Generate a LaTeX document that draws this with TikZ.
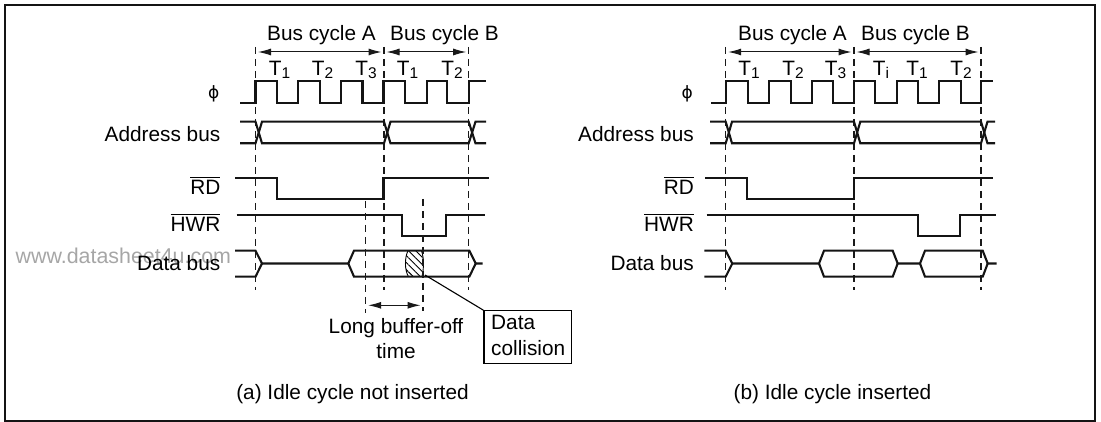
\documentclass[tikz,border=0pt]{standalone}
\usepackage{fontspec}
\setmainfont{Liberation Sans}
\newfontfamily\phifont{DejaVu Sans}
\usetikzlibrary{arrows.meta,patterns.meta}
\newcommand{\tstate}[2]{#1\raisebox{-3pt}{\fontsize{15.5}{16}\selectfont #2}}
\newcommand{\barsig}[1]{$\overline{\mbox{\rule{0pt}{16pt}#1}}$}

\begin{document}
\begin{tikzpicture}[
  x=1pt,y=-1pt,
  font=\fontsize{20.8}{24}\selectfont,
  sig/.style={draw=black!92,line width=2.1pt,line join=miter},
  guide/.style={draw=black!90,line width=1.2pt,dash pattern=on 7pt off 5pt},
  spanline/.style={draw=black!90,line width=1pt,{Latex[length=13pt,width=7pt]}-{Latex[length=13pt,width=7pt]},shorten <=2.5pt,shorten >=2.5pt},
  siglabel/.style={anchor=base east},
  tlabel/.style={anchor=base},
  title/.style={anchor=base},
  leader/.style={draw=black,line width=1.1pt}
]
\useasboundingbox (0,0) rectangle (1101,422);
\draw[line width=2pt,draw=black!92] (5.2,5) rectangle (1095.3,421);
\node[anchor=base west,text=black!35,inner sep=0pt,font=\fontsize{21.4}{24}\selectfont] (wmark) at (15.5,264) {www.datasheet4u.com};

% Panel (a): no idle cycle, so the read data runs into the write data.
\coordinate (a1) at (255.5,47);
\coordinate (a2) at (384,47);
\coordinate (a3) at (468.7,47);
\coordinate (a1b) at (255.5,290);
\coordinate (a2b) at (384,290);
\coordinate (a3b) at (468.7,290);
\coordinate (a1m) at (255.5,52);
\coordinate (a2m) at (384,52);
\coordinate (a3m) at (468.7,52);
\draw[guide] (a1) -- (a1b);
\draw[guide] (a2) -- (a2b);
\draw[guide] (a3) -- (a3b);
\draw[spanline] (a1m) -- (a2m);
\draw[spanline] (a2m) -- (a3m);
\node[title] (acyca) at (321.5,40.7) {Bus cycle A};
\node[title] (acycb) at (444.5,40.7) {Bus cycle B};
\node[tlabel] (at1) at (279.5,76) {\tstate{T}{1}};
\node[tlabel] (at2) at (322.5,76) {\tstate{T}{2}};
\node[tlabel] (at3) at (366,76) {\tstate{T}{3}};
\node[tlabel] (at4) at (407.5,76) {\tstate{T}{1}};
\node[tlabel] (at5) at (452,76) {\tstate{T}{2}};

\node[siglabel,font=\phifont\fontsize{17}{20}\selectfont,inner sep=0pt] (aphi) at (219.5,98.5) {ϕ};
\node[siglabel,inner sep=0pt] (aaddr) at (220.5,141.7) {Address bus};
\node[siglabel,inner sep=0pt] (ard) at (220.5,195) {\barsig{RD}};
\node[siglabel,inner sep=0pt] (ahwr) at (220.5,231.7) {\barsig{HWR}};
\node[siglabel,inner sep=0pt] (adata) at (220.5,271) {Data bus};

\draw[sig] (240,102.7) -- (255.5,102.7) -- (255.5,80.7) -- (277,80.7) -- (277,102.7) -- (298,102.7) -- (298,80.7)
  -- (320,80.7) -- (320,102.7) -- (341,102.7) -- (341,80.7) -- (362.5,80.7) -- (362.5,102.7) -- (383.5,102.7)
  -- (383.5,80.7) -- (405,80.7) -- (405,102.7) -- (426.7,102.7) -- (426.7,80.7) -- (447.3,80.7) -- (447.3,102.7)
  -- (468.7,102.7) -- (468.7,80.7) -- (486,80.7);
\draw[sig] (240,121.7) -- (255.5,121.7) -- (262,143.3) -- (384,143.3) -- (390.5,121.7) -- (468.7,121.7) -- (475.5,143.3) -- (486,143.3);
\draw[sig] (240,143.3) -- (255.5,143.3) -- (262,121.7) -- (384,121.7) -- (390.5,143.3) -- (468.7,143.3) -- (475.5,121.7) -- (486,121.7);
\draw[sig] (235,177.7) -- (277,177.7) -- (277,199.3) -- (383.5,199.3) -- (383.5,177.7) -- (489,177.7);
\draw[sig] (236.5,214.7) -- (402.3,214.7) -- (402.3,236) -- (446,236) -- (446,214.7) -- (485,214.7);

% Collision region goes under the data bus lines.
\fill[pattern={Lines[angle=-45,distance=5pt,line width=.9pt]}] (408,250.7) .. controls (404.5,258) and (404.5,270) .. (408.5,276.7)
  -- (422,276.7) .. controls (424,268) and (424,258) .. (421.5,250.7) -- cycle;
\draw[line width=.9pt] (408,250.7) .. controls (404.5,258) and (404.5,270) .. (408.5,276.7);
\draw[line width=.9pt] (421.5,250.7) .. controls (424,258) and (424,268) .. (422,276.7);
\draw[sig] (235,250.7) -- (255.5,250.7) -- (262,263.5) -- (348.3,263.5) -- (354,250.7) -- (469.3,250.7) -- (475.7,263.5) -- (482.7,263.5);
\draw[sig] (235,276.7) -- (255.5,276.7) -- (262,263.5) (348.3,263.5) -- (354,276.7) -- (469.3,276.7) -- (475.7,263.5);

\coordinate (off1) at (365.7,201);
\coordinate (off1b) at (365.7,313);
\coordinate (off2) at (423,199);
\coordinate (off2b) at (423,311);
\coordinate (off1m) at (365.7,305.3);
\coordinate (off2m) at (423,305.3);
\draw[guide] (off1) -- (off1b);
\draw[guide] (off2) -- (off2b);
\draw[spanline] (off1m) -- (off2m);
\node[anchor=base,align=center] (offa) at (396,334) {Long buffer-off};
\node[anchor=base] (offb) at (396,358) {time};

\node[draw=black,line width=1.1pt,anchor=north west,inner sep=0pt,minimum width=87.5pt,minimum height=52.5pt] (hit) at (483.4,310.2) {};
\node[anchor=base west,inner sep=0pt] (hita) at (491,329) {Data};
\node[anchor=base west,inner sep=0pt] (hitb) at (491,355) {collision};
\coordinate (clash) at (425,275);
\draw[leader] (clash) -- (hit.north west);

\node[title] (acap) at (352.5,399) {(a) Idle cycle not inserted};

% Panel (b): idle cycle Ti keeps the two apart.
\coordinate (b1) at (725.7,47);
\coordinate (b2) at (854,47);
\coordinate (b3) at (981,47);
\coordinate (b1b) at (725.7,290);
\coordinate (b2b) at (854,290);
\coordinate (b3b) at (981,290);
\coordinate (b1m) at (725.7,52);
\coordinate (b2m) at (854,52);
\coordinate (b3m) at (981,52);
\draw[guide] (b1) -- (b1b);
\draw[guide] (b2) -- (b2b);
\draw[guide] (b3) -- (b3b);
\draw[spanline] (b1m) -- (b2m);
\draw[spanline] (b2m) -- (b3m);
\node[title] (bcyca) at (792.5,40.7) {Bus cycle A};
\node[title] (bcycb) at (915.5,40.7) {Bus cycle B};
\node[tlabel] (bt1) at (749,76) {\tstate{T}{1}};
\node[tlabel] (bt2) at (793,76) {\tstate{T}{2}};
\node[tlabel] (bt3) at (835.5,76) {\tstate{T}{3}};
\node[tlabel] (bti) at (881,76) {\tstate{T}{i}};
\node[tlabel] (bt4) at (917,76) {\tstate{T}{1}};
\node[tlabel] (bt5) at (961,76) {\tstate{T}{2}};

\node[siglabel,font=\phifont\fontsize{17}{20}\selectfont,inner sep=0pt] (bphi) at (693,98.5) {ϕ};
\node[siglabel,inner sep=0pt] (baddr) at (694,141.7) {Address bus};
\node[siglabel,inner sep=0pt] (brd) at (694,195) {\barsig{RD}};
\node[siglabel,inner sep=0pt] (bhwr) at (694,231.7) {\barsig{HWR}};
\node[siglabel,inner sep=0pt] (bdata) at (694,271) {Data bus};

\draw[sig] (711,102.7) -- (725.7,102.7) -- (725.7,80.7) -- (747.7,80.7) -- (747.7,102.7) -- (769,102.7) -- (769,80.7)
  -- (790.7,80.7) -- (790.7,102.7) -- (811.7,102.7) -- (811.7,80.7) -- (833.3,80.7) -- (833.3,102.7) -- (854,102.7)
  -- (854,80.7) -- (875,80.7) -- (875,102.7) -- (897.3,102.7) -- (897.3,80.7) -- (918.3,80.7) -- (918.3,102.7)
  -- (939.3,102.7) -- (939.3,80.7) -- (960.7,80.7) -- (960.7,102.7) -- (981,102.7) -- (981,80.7) -- (992.7,80.7);
\draw[sig] (710,121.7) -- (725.7,121.7) -- (732,143.3) -- (854,143.3) -- (860.3,121.7) -- (981,121.7) -- (987.5,143.3) -- (995,143.3);
\draw[sig] (710,143.3) -- (725.7,143.3) -- (732,121.7) -- (854,121.7) -- (860.3,143.3) -- (981,143.3) -- (987.5,121.7) -- (995,121.7);
\draw[sig] (705,177.7) -- (746.7,177.7) -- (746.7,199.3) -- (854,199.3) -- (854,177.7) -- (993,177.7);
\draw[sig] (706.7,214.7) -- (917.7,214.7) -- (917.7,236) -- (960,236) -- (960,214.7) -- (995.7,214.7);
\draw[sig] (704.3,250.7) -- (725.7,250.7) -- (732.3,263.5) -- (819,263.5) -- (824,250.7) -- (892.7,250.7) -- (897.7,263.5) -- (920,263.5) -- (925,250.7) -- (982.7,250.7) -- (987.7,263.5) -- (996.7,263.5);
\draw[sig] (704.3,276.7) -- (725.7,276.7) -- (732.3,263.5) (819,263.5) -- (824,276.7) -- (892.7,276.7) -- (897.7,263.5) (920,263.5) -- (925,276.7) -- (982.7,276.7) -- (987.7,263.5);

\node[title] (bcap) at (832.5,399) {(b) Idle cycle inserted};
\end{tikzpicture}
\end{document}
